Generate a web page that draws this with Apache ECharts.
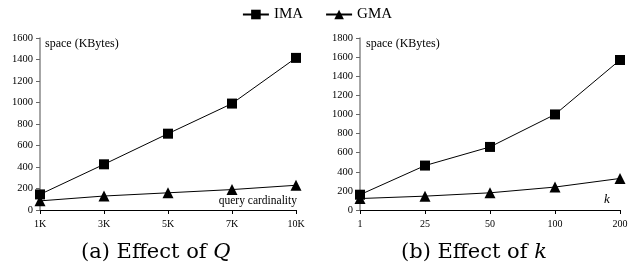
<!DOCTYPE html>
<html><head><meta charset="utf-8">
<script src="https://cdn.jsdelivr.net/npm/echarts@6/dist/echarts.min.js"></script>
<style>html,body{margin:0;padding:0;background:#fff}#c{width:634px;height:268px}</style>
</head><body><div id="c"></div>
<script>
const catsQ = ['1K','3K','5K','7K','10K'];
const imaQ = [145, 425, 710, 990, 1415];
const gmaQ = [85, 130, 160, 190, 230];
const catsK = ['1','25','50','100','200'];
const imaK = [160, 465, 660, 1000, 1570];
const gmaK = [120, 145, 180, 240, 330];
const yTicksQ = {min:0, max:1600, interval:200};
const yTicksK = {min:0, max:1800, interval:200};

const font = 'Liberation Serif';
const chart = echarts.init(document.getElementById('c'));
function xAx(idx, cats){
  return {type:'category', gridIndex:idx, data:cats, boundaryGap:false,
    axisLine:{lineStyle:{color:'#000', width:1}},
    axisTick:{show:true, alignWithLabel:true, length:4, lineStyle:{color:'#000'}},
    axisLabel:{fontFamily:font, fontSize:10, color:'#000', margin:9}};
}
function yAx(idx, t){
  return {type:'value', gridIndex:idx, min:t.min, max:t.max, interval:t.interval,
    axisLine:{show:true, lineStyle:{color:'#888', width:1.5}},
    axisTick:{show:true, length:4, lineStyle:{color:'#666'}},
    splitLine:{show:false},
    axisLabel:{fontFamily:font, fontSize:10.5, color:'#000', margin:7, formatter:(v)=>String(v)}};
}
const lineStyle = {color:'#000', width:1};
function s(name, sym, x, data){
  return {name, type:'line', xAxisIndex:x, yAxisIndex:x, data, symbol:sym, symbolSize: sym==='rect'?10:11,
    lineStyle, itemStyle:{color:'#000'}, showSymbol:true, animation:false};
}
const capRich = {i:{fontFamily:'DejaVu Serif', fontStyle:'italic', fontSize:21, fill:'#000'}};
chart.setOption({
  animation:false,
  legend:{top:2, left:'center', itemGap:22, itemWidth:26, itemHeight:12,
    textStyle:{fontFamily:font, fontSize:15, color:'#000'},
    data:['IMA','GMA']},
  grid:[{left:40, top:38, width:256, height:172},{left:360, top:38, width:260, height:172}],
  xAxis:[xAx(0, catsQ), xAx(1, catsK)],
  yAxis:[yAx(0, yTicksQ), yAx(1, yTicksK)],
  series:[s('IMA','rect',0,imaQ), s('GMA','triangle',0,gmaQ), s('IMA','rect',1,imaK), s('GMA','triangle',1,gmaK)],
  graphic:[
    {type:'text', left:45, top:38, style:{text:'space (KBytes)', font:'12px "Liberation Serif"', fill:'#000'}},
    {type:'text', left:366, top:38, style:{text:'space (KBytes)', font:'12px "Liberation Serif"', fill:'#000'}},
    {type:'text', right:634-297, top:195, style:{text:'query cardinality', font:'11.5px "Liberation Serif"', fill:'#000', align:'right'}},
    {type:'text', left:604, top:193, style:{text:'k', font:'italic 13px "Liberation Serif"', fill:'#000'}},
    {type:'text', left:81, top:242, style:{text:'(a) Effect of {i|Q}', font:'21px "DejaVu Serif"', fill:'#000', rich:capRich}},
    {type:'text', left:401, top:242, style:{text:'(b) Effect of {i|k}', font:'21px "DejaVu Serif"', fill:'#000', rich:capRich}}
  ]
});
</script></body></html>
